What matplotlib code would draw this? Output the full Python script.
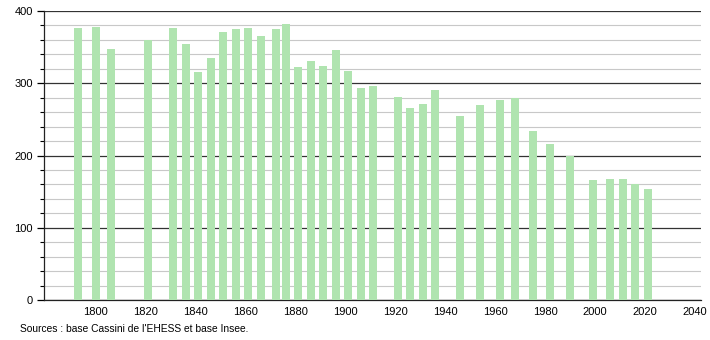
import matplotlib
matplotlib.use("Agg")
import matplotlib.pyplot as plt
from matplotlib.ticker import MultipleLocator

# données : recensements
annees = [1793, 1800, 1806, 1821, 1831, 1836, 1841, 1846, 1851, 1856,
          1861, 1866, 1872, 1876, 1881, 1886, 1891, 1896, 1901, 1906,
          1911, 1921, 1926, 1931, 1936, 1946, 1954, 1962, 1968, 1975,
          1982, 1990, 1999, 2006, 2011, 2016, 2021]
population = [376, 378, 347, 360, 376, 355, 315, 335, 371, 375,
              377, 366, 375, 382, 322, 331, 324, 346, 317, 294,
              296, 281, 266, 271, 291, 255, 270, 277, 279, 234,
              216, 200, 166, 168, 167, 160, 154]
ticks_x = list(range(1800, 2041, 20))
source = "Sources : base Cassini de l'EHESS et base Insee."

plt.rcParams['font.family'] = ['Liberation Sans', 'DejaVu Sans']

fig = plt.figure(figsize=(7.1, 3.4), dpi=100)
ax = fig.add_axes([44 / 710, 40 / 340, 657 / 710, 289 / 340])

ax.bar(annees, population, width=3.2, color='#b0e4b0', zorder=3)

ax.set_xlim(1779.2, 2042.4)
ax.set_ylim(0, 400)
ax.set_xticks(ticks_x)
ax.yaxis.set_major_locator(MultipleLocator(100))
ax.yaxis.set_minor_locator(MultipleLocator(20))

ax.grid(axis='y', which='minor', color='#c8c8c8', linewidth=0.8, zorder=1)
ax.grid(axis='y', which='major', color='#333333', linewidth=0.9, zorder=2)

for s in ['right', 'top']:
    ax.spines[s].set_visible(False)
ax.spines['left'].set_color('#222222')
ax.spines['bottom'].set_color('#222222')
ax.spines['left'].set_linewidth(0.9)
ax.spines['bottom'].set_linewidth(0.9)

ax.tick_params(axis='y', which='major', length=5, width=0.9, labelsize=8, pad=3)
ax.tick_params(axis='y', which='minor', length=3, width=0.8)
ax.tick_params(axis='x', length=0, labelsize=8, pad=5)

fig.text(20 / 710, 1 - 329 / 340, source, fontsize=7.4, va='center', ha='left')

fig.savefig("out.png", dpi=100)
